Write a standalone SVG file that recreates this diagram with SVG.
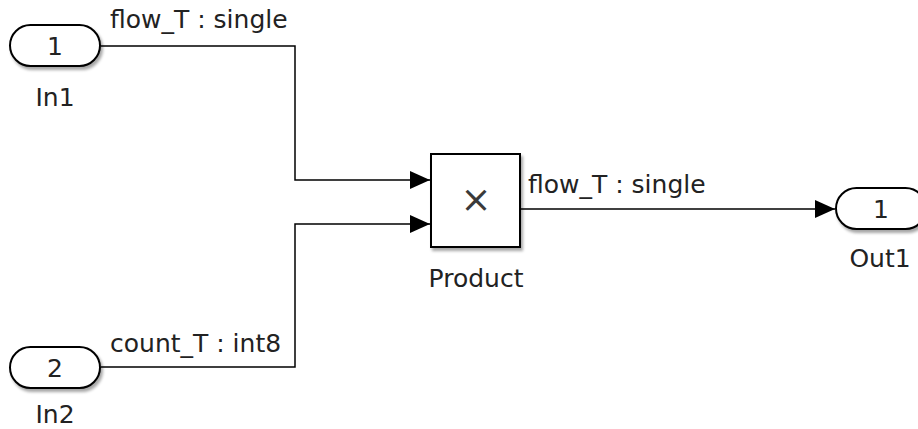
<svg xmlns="http://www.w3.org/2000/svg" width="918" height="429" viewBox="0 0 918 429">
<defs>
<filter id="sh" x="-10%" y="-10%" width="130%" height="130%">
<feGaussianBlur in="SourceAlpha" stdDeviation="1.5"/>
<feOffset dx="2" dy="3" result="b"/>
<feComponentTransfer><feFuncA type="linear" slope="0.35"/></feComponentTransfer>
<feMerge><feMergeNode/><feMergeNode in="SourceGraphic"/></feMerge>
</filter>
<marker id="ah" viewBox="0 0 20 20" refX="20" refY="10" markerWidth="20" markerHeight="20" markerUnits="userSpaceOnUse" orient="auto">
<path d="M0,1 L20,10 L0,19 Z" fill="#000"/>
</marker>
<style>
.blk{fill:#fff;stroke:#000;stroke-width:2}
.t{font-family:"DejaVu Sans",Verdana,sans-serif;font-size:25px;fill:#222}
.c{fill:none;stroke:#000;stroke-width:1.5}
</style>
</defs>
<g id="connectors">
<path class="c" d="M101,46 H295 V180 H430" marker-end="url(#ah)"/>
<path class="c" d="M101,367 H295 V224 H430" marker-end="url(#ah)"/>
<path class="c" d="M520,209 H835" marker-end="url(#ah)"/>
<text class="t" x="110" y="28">flow_T : single</text>
<text class="t" x="110" y="352">count_T : int8</text>
<text class="t" x="528" y="193">flow_T : single</text>
</g>
<g id="In1">
<rect class="blk" x="10" y="25" width="90" height="41" rx="20.5" filter="url(#sh)"/>
<text class="t" x="55" y="55" text-anchor="middle">1</text>
<text class="t" x="55" y="106" text-anchor="middle">In1</text>
</g>
<g id="In2">
<rect class="blk" x="10" y="347" width="90" height="41" rx="20.5" filter="url(#sh)"/>
<text class="t" x="55" y="377" text-anchor="middle">2</text>
<text class="t" x="55" y="423" text-anchor="middle">In2</text>
</g>
<g id="Product">
<rect class="blk" x="431" y="154" width="89" height="93" filter="url(#sh)"/>
<text class="t" x="476" y="212" text-anchor="middle" style="font-size:37px;fill:#3a3a3a">×</text>
<text class="t" x="476" y="287" text-anchor="middle">Product</text>
</g>
<g id="Out1">
<rect class="blk" x="836" y="188" width="90" height="41" rx="20.5" filter="url(#sh)"/>
<text class="t" x="881" y="218" text-anchor="middle">1</text>
<text class="t" x="880" y="267" text-anchor="middle">Out1</text>
</g>
</svg>
